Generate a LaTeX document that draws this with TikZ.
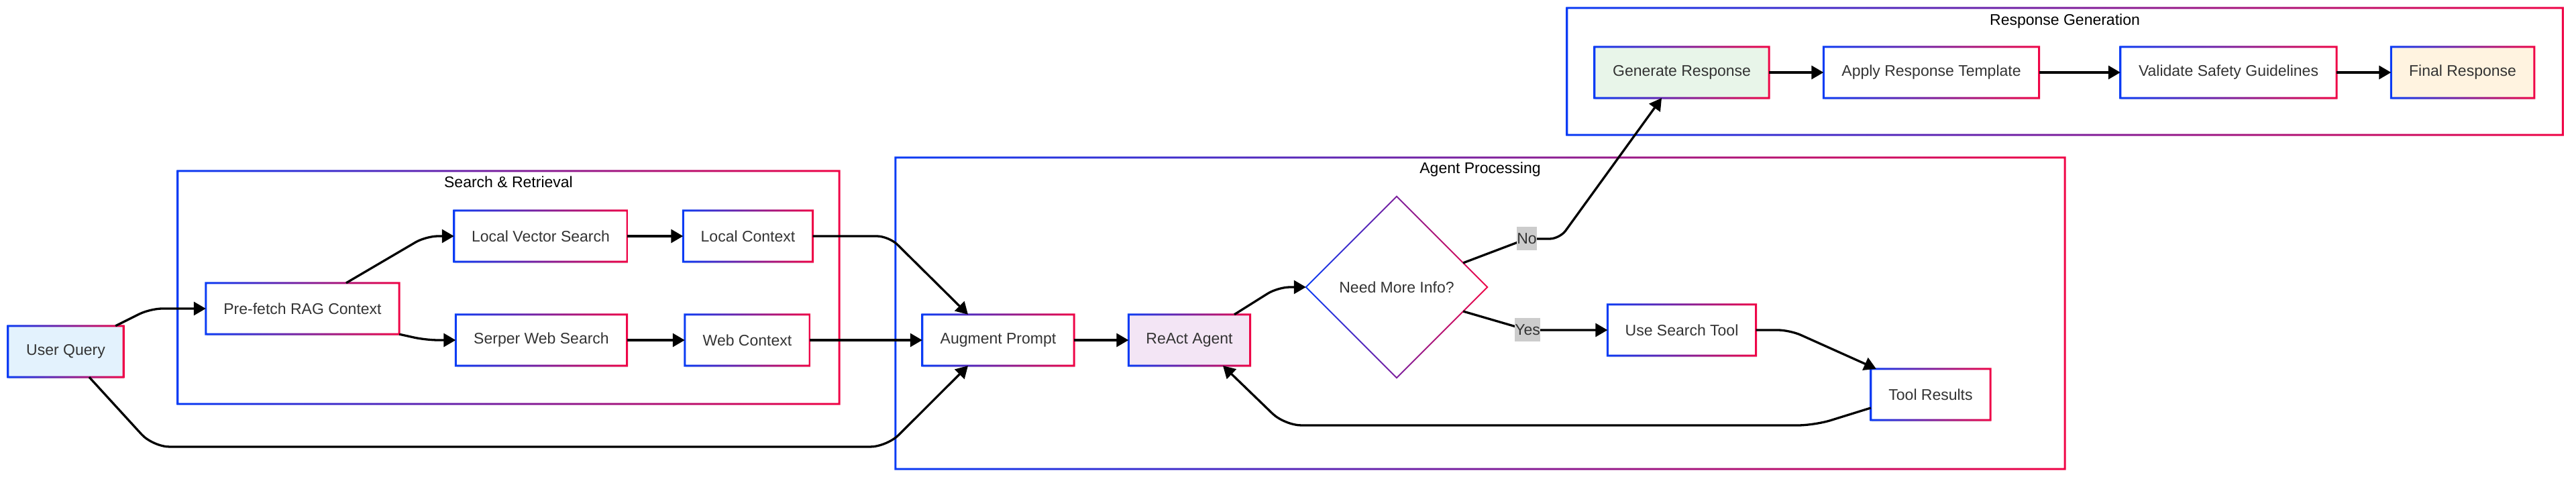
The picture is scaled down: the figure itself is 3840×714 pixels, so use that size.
\documentclass[tikz,border=0pt]{standalone}
\usepackage{fontspec}
\setmainfont{Liberation Sans}
\usepackage{tikz}
\usetikzlibrary{positioning, arrows.meta, shapes.geometric, shadows}
\definecolor{gblue}{RGB}{10,60,245}
\definecolor{gred}{RGB}{240,5,70}
\definecolor{txt}{RGB}{51,51,51}
\definecolor{lblgray}{RGB}{204,204,204}
\definecolor{qblue}{RGB}{227,242,253}
\definecolor{apurple}{RGB}{243,229,245}
\definecolor{rgreen}{RGB}{232,245,233}
\definecolor{forange}{RGB}{255,243,224}
\tikzset{
x=1pt, y=1pt, % one unit is one pixel of the layout
flow/.style={-{Triangle[length=18pt,width=20pt]}, line width=3.3pt}, % the black connectors
box/.style={rectangle, fill=white, minimum height=76pt, inner sep=0pt, text=txt, font=\fontsize{23}{28}\selectfont, drop shadow={shadow xshift=1pt, shadow yshift=-3pt, opacity=0.12}}, % every step of the flow
decision/.style={diamond, aspect=1, fill=white, minimum width=270pt, minimum height=270pt, inner sep=0pt, text=txt, font=\fontsize{23}{28}\selectfont}, % the question
cluster/.style={rectangle, inner sep=0pt}, % frame of a group
title/.style={text=black, inner sep=0pt, text height=17pt, text depth=5pt, font=\fontsize{23}{28}\selectfont}, % name of a group
lbl/.style={sharp corners, fill=lblgray, text=txt, inner xsep=0.5pt, inner ysep=0pt, minimum height=35pt, font=\fontsize{23}{28}\selectfont}, % yes / no on the edges
}

\begin{document}
\begin{tikzpicture}
    \useasboundingbox (0,0) rectangle (3840,714);
    % groups
    \node[cluster, minimum width=986pt, minimum height=347pt] (srbox) at (758,285.5) {};
    \node[cluster, minimum width=1743pt, minimum height=464pt] (agbox) at (2206.5,247) {};
    \node[cluster, minimum width=1484pt, minimum height=189pt] (rgbox) at (3078,607.5) {};
    \foreach \n in {srbox,agbox,rgbox}
      \shade[left color=gblue, right color=gred, even odd rule]
        ([shift={(-1.5,-1.5)}]\n.south west) rectangle ([shift={(1.5,1.5)}]\n.north east)
        ([shift={(1.5,1.5)}]\n.south west) rectangle ([shift={(-1.5,-1.5)}]\n.north east);
    \node[title] (srtitle) at ([yshift=-19pt]srbox.north) {Search \& Retrieval};
    \node[title] (agtitle) at ([yshift=-18pt]agbox.north) {Agent Processing};
    \node[title] (rgtitle) at ([yshift=-20pt]rgbox.north) {Response Generation};

    % steps
    \node[box, fill=qblue, minimum width=172pt] (uq) at (98,190) {User Query};
    \node[box, minimum width=288pt] (pf) at (451,254) {Pre-fetch RAG Context};
    \node[box, minimum width=258pt] (lvs) at (806,362) {Local Vector Search};
    \node[box, minimum width=193pt, right of=lvs, node distance=309pt] (lc) {Local Context};
    \node[box, minimum width=255pt] (sws) at (807,207) {Serper Web Search};
    \node[box, minimum width=186pt, right of=sws, node distance=307pt] (wc) {Web Context};
    \node[box, minimum width=226pt] (ap) at (1488,207) {Augment Prompt};
    \node[box, fill=apurple, minimum width=181pt, right of=ap, node distance=285pt] (ra) {ReAct Agent};
    \node[decision] (nmi) at (2082,286) {Need More Info?};
    \node[box, minimum width=221pt] (ust) at (2507,222) {Use Search Tool};
    \node[box, minimum width=178pt] (tr) at (2878,126) {Tool Results};
    \node[box, fill=rgreen, minimum width=260pt] (gr) at (2507,606) {Generate Response};
    \node[box, minimum width=321pt, right of=gr, node distance=372pt] (art) {Apply Response Template};
    \node[box, minimum width=322pt, right of=art, node distance=443pt] (vsg) {Validate Safety Guidelines};
    \node[box, fill=forange, minimum width=213pt, right of=vsg, node distance=349pt] (fr) {Final Response};
    \foreach \n in {uq,pf,lvs,lc,sws,wc,ap,ra,ust,tr,gr,art,vsg,fr}
      \shade[left color=gblue, right color=gred, even odd rule]
        ([shift={(-1.5,-1.5)}]\n.south west) rectangle ([shift={(1.5,1.5)}]\n.north east)
        ([shift={(1.5,1.5)}]\n.south west) rectangle ([shift={(-1.5,-1.5)}]\n.north east);
    \shade[left color=gblue, right color=gred, even odd rule]
      ([xshift=-1.4]nmi.west) -- ([yshift=1.4]nmi.north) -- ([xshift=1.4]nmi.east) -- ([yshift=-1.4]nmi.south) -- cycle
      ([xshift=1.4]nmi.west) -- ([yshift=-1.4]nmi.north) -- ([xshift=-1.4]nmi.east) -- ([yshift=1.4]nmi.south) -- cycle;

    % connectors
    \draw[flow] ([xshift=-12pt]uq.north east) [rounded corners=18pt] -- (224,254) -- (pf.west) [sharp corners];
    \draw[flow] ([xshift=65pt]pf.north) [rounded corners=18pt] -- (635,362) -- (lvs.west) [sharp corners];
    \draw[flow] (pf.south east) [rounded corners=18pt] -- (635,207) -- (sws.west) [sharp corners];
    \draw[flow] (lvs.east) -- (lc.west);
    \draw[flow] (sws.east) -- (wc.west);
    \draw[flow] (lc.east) [rounded corners=18pt] -- (1325,362) -- ([xshift=-45pt]ap.north) [sharp corners];
    \draw[flow] (wc.east) -- (ap.west);
    \draw[flow] ([xshift=35pt]uq.south) [rounded corners=25pt] -- (228,48) -- (1322,48) -- ([xshift=-45pt]ap.south) [sharp corners];
    \draw[flow] (ap.east) -- (ra.west);
    \draw[flow] ([xshift=67pt]ra.north) [rounded corners=18pt] -- (1905,286) -- (nmi.west) [sharp corners];
    \draw[flow] (nmi.20) [rounded corners=15pt] -- (2276,358) node[lbl] (nolbl) {No} -- (2325,358) -- ([xshift=-30pt]gr.south) [sharp corners];
    \draw[flow] (nmi.-20) -- (2277,222) node[lbl] (yeslbl) {Yes} -- (ust.west);
    \draw[flow] (ust.east) [rounded corners=18pt] -- (2668,222) -- ([xshift=8pt]tr.north west) [sharp corners];
    \draw[flow] ([yshift=-20pt]tr.west) [rounded corners=25pt] -- (2705,80) -- (1915,80) -- ([xshift=50pt]ra.south) [sharp corners];
    \draw[flow] (gr.east) -- (art.west);
    \draw[flow] (art.east) -- (vsg.west);
    \draw[flow] (vsg.east) -- (fr.west);
\end{tikzpicture}
\end{document}
